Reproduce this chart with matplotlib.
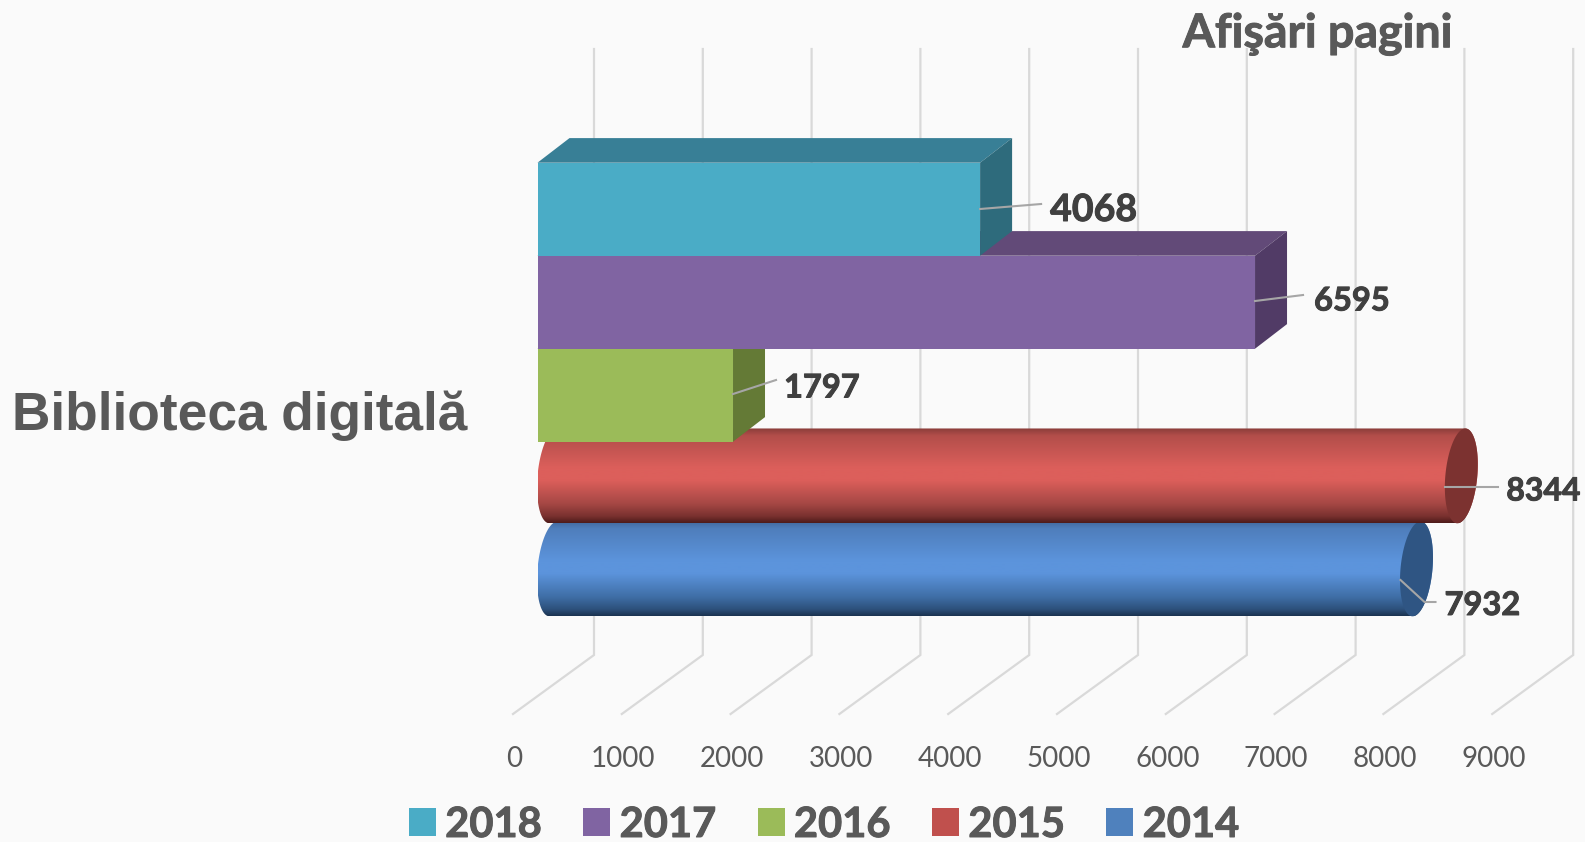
import numpy as np
import matplotlib
matplotlib.use('Agg')
import matplotlib.pyplot as plt
import matplotlib.patheffects as pe
from matplotlib.patches import Patch, Polygon, Rectangle

# Values, top band first
years = ['2018', '2017', '2016', '2015', '2014']
views = [4068, 6595, 1797, 8344, 7932]
ticks = [0, 1000, 2000, 3000, 4000, 5000, 6000, 7000, 8000, 9000]
category = 'Biblioteca digitală'
axis_title = 'Afişări pagini'

# Colours for each year
front = ['#4aacc6', '#8064a2', '#9bbb59', '#c0504d', '#4f81bd']
top = ['#387f96', '#624a78', '#72893f', '#8a3a37', '#3a6090']
side = ['#2e6b7c', '#513b66', '#647a36', '#7c3230', '#2f5583']
legend_colors = front
cyl_light = {'2015': '#dc5f5b', '2014': '#5c94dc'}
cyl_mid = {'2015': '#a54744', '2014': '#3f6ea6'}
cyl_edge = {'2015': '#8a3d3a', '2014': '#42689c'}
cyl_dark = {'2015': '#4e1b1a', '2014': '#1b3350'}

# Layout: pixels per unit and where the front plane sits in the figure
W, H = 1585, 842
ppu = 0.1088
x0_px = 537.5
band_px = 93.0
y0_px = 162.7
depth_x = 32 / ppu
depth_y = 24.6 / band_px
tilt = 4 / ppu


def dx(px):
    return px / ppu


def ypos(px):
    return (px - y0_px) / band_px


fat = [pe.withStroke(linewidth=0.7, foreground='#404040')]
fat_grey = [pe.withStroke(linewidth=0.7, foreground='#595959')]

fig = plt.figure(figsize=(W / 100, H / 100), dpi=100, facecolor='#fafafa')
ax = fig.add_axes([0, 0, 1, 1])
ax.axis('off')

# Gridlines: wall plus floor
for t in ticks:
    ax.plot([t + dx(56.5), t + dx(56.5), t + dx(-24.5)],
            [ypos(49), ypos(655), ypos(714)],
            color='#d9d9d9', lw=1.6, zorder=1, solid_joinstyle='miter')
    ax.text(t + dx(-23), ypos(759), str(t), ha='center', va='center',
            fontsize=20, family='Lato', color='#595959')

# Box bars (2018, 2017, 2016), drawn bottom up so upper ones overlap
z = 2
for i in [2, 1, 0]:
    v = views[i]
    ax.add_patch(Polygon([(0, i), (depth_x, i - depth_y), (v + depth_x, i - depth_y), (v, i)],
                         closed=True, fc=top[i], ec='none', zorder=z))
    ax.add_patch(Polygon([(v, i), (v + depth_x, i - depth_y), (v + depth_x, i + 1 - depth_y), (v, i + 1)],
                         closed=True, fc=side[i], ec='none', zorder=z))
    ax.add_patch(Rectangle((0, i), v, 1, fc=front[i], ec='none', zorder=z + 0.5))
    z += 1

# Cylinder bars (2015, 2014)
for i, zc in [(3, 1.6), (4, 1.3)]:
    v = views[i]
    y_top = i - depth_y / 2 - 0.01
    y_bot = i + 1 - depth_y / 2 + 0.01
    yc = (y_top + y_bot) / 2
    ry = (y_bot - y_top) / 2
    rx = depth_x / 2
    cx0 = depth_x / 2
    cx1 = v + depth_x / 2
    # slightly tilted end caps, a runs from top (-pi/2) to bottom (pi/2)
    a = np.linspace(-np.pi / 2, np.pi / 2, 60)
    lx = cx0 - rx * np.cos(a) - tilt * np.sin(a)
    ly = yc + ry * np.sin(a)
    # far side of the right cap completes the tube
    far_x = cx1 + rx * np.cos(a) - tilt * np.sin(a)
    body = Polygon(list(zip(lx, ly)) + list(zip(far_x[::-1], ly[::-1])),
                   closed=True, fc='none', ec='none')
    ax.add_patch(body)
    # vertical shading of the tube
    name = years[i]
    c_e = matplotlib.colors.to_rgb(cyl_edge[name])
    c_l = matplotlib.colors.to_rgb(cyl_light[name])
    c_m = matplotlib.colors.to_rgb(cyl_mid[name])
    c_d = matplotlib.colors.to_rgb(cyl_dark[name])
    stops = np.linspace(0, 1, 200)
    grad = np.zeros((200, 1, 3))
    for k in range(3):
        grad[:, 0, k] = np.interp(stops, [0, 0.08, 0.42, 0.55, 0.8, 0.93, 1],
                                  [c_e[k], (c_e[k] + c_l[k]) / 2, c_l[k], c_l[k], c_m[k],
                                   (c_d[k] + c_m[k]) / 2, c_d[k]])
    im = ax.imshow(grad, extent=[0, cx1 + rx + tilt, y_bot, y_top], aspect='auto', zorder=zc,
                   interpolation='bilinear')
    im.set_clip_path(body)
    # end cap
    cap_a = np.linspace(0, 2 * np.pi, 120)
    ax.add_patch(Polygon(list(zip(cx1 + rx * np.cos(cap_a) - tilt * np.sin(cap_a), yc + ry * np.sin(cap_a))),
                         closed=True, fc=side[i], ec='none', zorder=zc + 0.01))

ax.set_xlim(-x0_px / ppu, (W - x0_px) / ppu)
ax.set_ylim((H - y0_px) / band_px, -y0_px / band_px)

# Value labels with their leader lines (offsets from the bar end, in pixels)
label_x = [70, 59, 51, 61, 44]
label_y = [210, 301, 388, 491, 605.5]
label_size = [27, 23.5, 23.5, 23, 23.5]
leader_pts = [[(0, 209), (61, 204)],
              [(0, 301), (48, 295)],
              [(0, 394), (43, 380)],
              [(0, 487), (53, 487)],
              [(0, 580), (24, 602), (35, 602)]]
for i, v in enumerate(views):
    ax.text(v + dx(label_x[i]), ypos(label_y[i]), str(v), ha='left', va='center',
            fontsize=label_size[i], family='Lato', fontweight='bold', color='#404040',
            zorder=20, path_effects=fat)
    ax.plot([v + dx(p[0]) for p in leader_pts[i]], [ypos(p[1]) for p in leader_pts[i]],
            color='#a6a6a6', lw=1.5, zorder=19)

ax.text(dx(1317.5 - x0_px), ypos(33.5), axis_title, ha='center', va='center',
        fontsize=33.5, family='Lato', fontweight='bold', color='#595959', path_effects=fat_grey)
ax.text(dx(240 - x0_px), ypos(416), category, ha='center', va='center',
        fontsize=38.3, family='Liberation Sans', fontweight='bold', color='#595959')

handles = [Patch(fc=c, ec='none', label=y) for c, y in zip(legend_colors, years)]
leg = fig.legend(handles=handles, loc='center', bbox_to_anchor=(824 / W, 1 - 825 / H), ncol=5, frameon=False,
                 prop={'family': 'Lato', 'weight': 'bold', 'size': 30}, labelcolor='#595959',
                 handlelength=0.65, handleheight=0.65, handletextpad=0.22, columnspacing=1.0,
                 borderpad=0, borderaxespad=0)
for txt in leg.get_texts():
    txt.set_path_effects(fat_grey)

fig.savefig('out.png', dpi=100, facecolor=fig.get_facecolor())
